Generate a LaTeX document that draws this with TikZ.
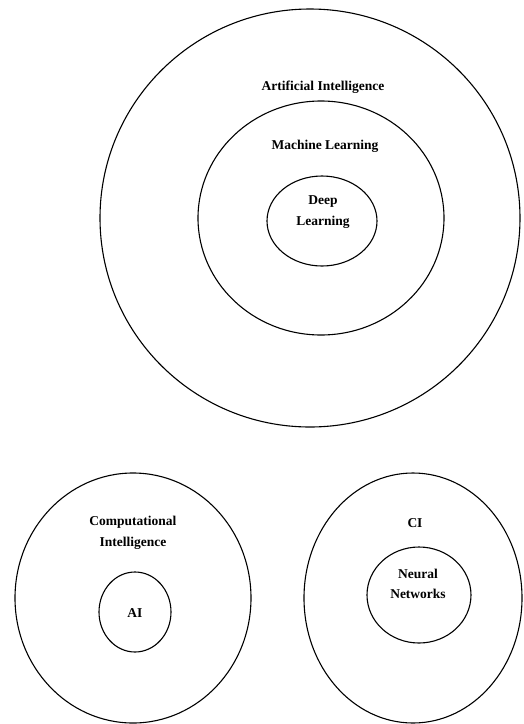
\documentclass[tikz,border=0pt]{standalone}
\usepackage{fontspec}
\setmainfont{Liberation Serif}
\usetikzlibrary{positioning}

\tikzset{
    ring/.style={line width=1.1pt},
    lbl/.style={font=\fontsize{13.5}{20.5}\selectfont\bfseries, align=center, inner sep=0pt}
}

\begin{document}
\begin{tikzpicture}[x=1pt, y=-1pt]
        \useasboundingbox (0, 0) rectangle (524, 724);
        % upper set: AI > ML > DL
        \draw[ring] (310, 218) ellipse (210 and 209);
        \draw[ring] (321, 218) ellipse (123 and 117);
        \draw[ring] (322, 221) ellipse (55 and 45);
        \node[lbl] (ai) at (323, 87) {Artificial Intelligence};
        \node[lbl] (ml) at (325, 146) {Machine Learning};
        \node[lbl] (dl) at (323, 212) {Deep\\Learning};
        % lower left: CI > AI
        \draw[ring] (133, 598) ellipse (118 and 125);
        \draw[ring] (135, 612) ellipse (36 and 40);
        \node[lbl] (ci) at (133, 533) {Computational\\Intelligence};
        \node[lbl] (aismall) at (135, 613) {AI};
        % lower right: CI > NN
        \draw[ring] (413, 598) ellipse (109 and 125);
        \draw[ring] (419, 595) ellipse (52 and 48);
        \node[lbl] (cismall) at (415, 523) {CI};
        \node[lbl] (nn) at (418, 584) {Neural\\Networks};
    \end{tikzpicture}
\end{document}
